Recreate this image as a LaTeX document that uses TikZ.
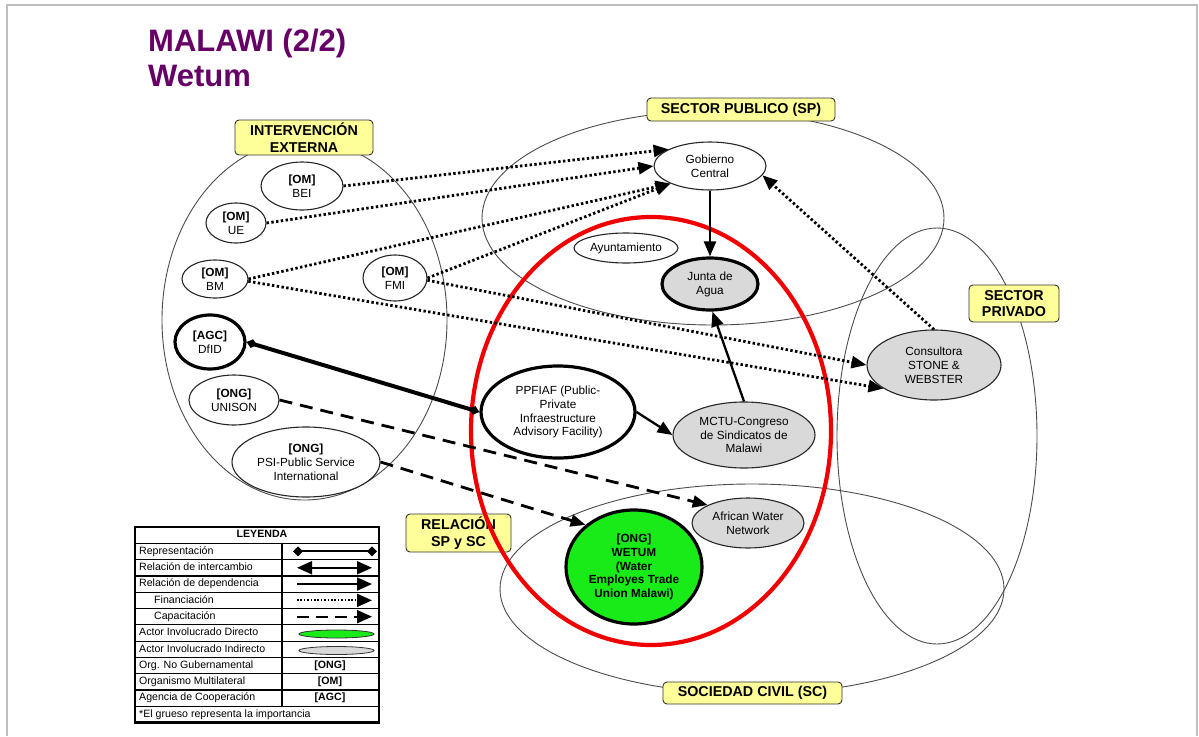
\documentclass[tikz,border=0pt]{standalone}
\usepackage{fontspec}
\setmainfont{Liberation Sans}
\usetikzlibrary{shapes.geometric,arrows.meta}
\definecolor{ttl}{RGB}{102,0,102}
\definecolor{lblfill}{RGB}{255,255,153}
\definecolor{indgray}{RGB}{217,217,217}
\definecolor{wgreen}{RGB}{25,235,25}
\definecolor{framegray}{RGB}{190,190,190}
\definecolor{redring}{RGB}{240,0,0}
\newcommand\ndfont{\fontsize{11.8}{13.9}\selectfont}
\newcommand\lblfont{\bfseries\fontsize{14.3}{16.5}\selectfont}
\newcommand\lgfont{\fontsize{10.6}{12}\selectfont}
\newcommand\ttlfont{\bfseries\fontsize{31}{35}\selectfont}
\tikzset{
  reg/.style={ellipse, draw=black!70, line width=0.9pt, inner sep=0pt},
  actor/.style={ellipse, draw=black!85, line width=1.1pt, fill=white, inner sep=0pt, align=center, font=\ndfont},
  keyactor/.style={actor, draw=black, line width=3.2pt},
  indirect/.style={fill=indgray},
  sectorlbl/.style={rectangle, draw=black!80, fill=lblfill, rounded corners=4pt, line width=0.9pt, font=\lblfont, align=center, inner sep=0pt},
  finarrow/.style={line width=2.8pt, dash pattern=on 2.4pt off 2.4pt, -{Triangle[length=15pt,width=12pt]}},
  caparrow/.style={line width=2.8pt, dash pattern=on 13pt off 8pt, -{Triangle[length=15pt,width=12pt]}},
  deparrow/.style={line width=2.3pt, -{Triangle[length=15pt,width=12pt]}},
  reparrow/.style={line width=4pt, {Diamond[length=11pt,width=9pt]}-{Diamond[length=11pt,width=9pt]}},
  lgtxt/.style={anchor=west, font=\lgfont, inner sep=0pt, text height=7.6pt, text depth=2pt},
  lgsym/.style={font=\lgfont\bfseries, inner sep=0pt, text height=7.6pt, text depth=2pt},
  lgline/.style={line width=1.2pt}
}
\begin{document}
\begin{tikzpicture}[x=1pt,y=-1pt]
\useasboundingbox (0,0) rectangle (1199,736);
\fill[white] (0,0) rectangle (1199,736);
\draw[framegray, line width=2.2pt] (7,736) -- (7,5) -- (1197,5) -- (1197,736);

% title
\node[anchor=base west, font=\ttlfont, text=ttl, inner sep=0pt] (title1) at (148,51) {MALAWI (2/2)};
\node[anchor=base west, font=\ttlfont, text=ttl, inner sep=0pt] (title2) at (148,86) {Wetum};

% regions
\node[reg, minimum width=285pt, minimum height=360pt] (ie) at (304.5,320) {};
\node[reg, minimum width=462pt, minimum height=214pt] (sp) at (713,218) {};
\node[reg, minimum width=200pt, minimum height=416pt] (spriv) at (937,436) {};
\node[reg, minimum width=504pt, minimum height=210pt] (sc) at (752,589) {};

% region labels
\node[sectorlbl, minimum width=138pt, minimum height=35pt] (lie) at (304,137.5) {INTERVENCIÓN\\EXTERNA};
\node[sectorlbl, minimum width=188pt, minimum height=23pt] (lsp) at (741,109.5) {SECTOR PUBLICO (SP)};
\node[sectorlbl, minimum width=90pt, minimum height=37pt] (lspriv) at (1014,303.5) {SECTOR\\PRIVADO};
\node[sectorlbl, minimum width=105pt, minimum height=38pt] (lrel) at (458.5,533) {RELACIÓN\\SP y SC};
\node[sectorlbl, minimum width=179pt, minimum height=22pt] (lsc) at (752.5,693) {SOCIEDAD CIVIL (SC)};

% red ring
\node[ellipse, draw=redring, line width=4.2pt, minimum width=360pt, minimum height=428pt, inner sep=0pt] (ring) at (651,431) {};

% actors
\node[actor, minimum width=82pt, minimum height=48pt] (bei) at (302,186) {\textbf{[OM]}\\BEI};
\node[actor, minimum width=60pt, minimum height=40pt] (ue) at (236,223) {\textbf{[OM]}\\UE};
\node[actor, minimum width=66pt, minimum height=38pt] (bm) at (215,279) {\textbf{[OM]}\\BM};
\node[actor, minimum width=64pt, minimum height=46pt] (fmi) at (395,278) {\textbf{[OM]}\\FMI};
\node[keyactor, minimum width=70pt, minimum height=54pt] (dfid) at (210,342) {\textbf{[AGC]}\\DfID};
\node[actor, minimum width=90pt, minimum height=50pt] (unison) at (234,400) {\textbf{[ONG]}\\UNISON};
\node[actor, minimum width=148pt, minimum height=70pt] (psi) at (306,462) {\textbf{[ONG]}\\PSI-Public Service\\International};
\node[actor, minimum width=112pt, minimum height=48pt] (gob) at (710,166) {Gobierno\\Central};
\node[actor, minimum width=104pt, minimum height=30pt] (ayto) at (626,248) {Ayuntamiento};
\node[keyactor, indirect, minimum width=96pt, minimum height=52pt] (junta) at (710,284) {Junta de\\Agua};
\node[keyactor, minimum width=154pt, minimum height=92pt] (ppfiaf) at (558,412) {PPFIAF (Public-\\Private\\Infraestructure\\Advisory Facility)};
\node[actor, indirect, minimum width=142pt, minimum height=66pt] (mctu) at (744,435) {MCTU-Congreso\\de Sindicatos de\\Malawi};
\node[actor, indirect, minimum width=134pt, minimum height=70pt] (con) at (934,365) {Consultora\\STONE \&\\WEBSTER};
\node[actor, indirect, minimum width=112pt, minimum height=50pt] (awn) at (748,523) {African Water\\Network};
\node[keyactor, fill=wgreen, minimum width=136pt, minimum height=114pt, font=\ndfont\bfseries] (wetum) at (634,567) {[ONG]\\WETUM\\(Water\\Employes Trade\\Union Malawi)};

% connectors
\draw[finarrow] (bei.east) -- (gob.158);
\draw[finarrow] (ue.east) -- (gob.west);
\draw[finarrow] (bm.east) -- (gob.204);
\draw[finarrow] (fmi.east) -- (gob.204);
\draw[finarrow] (bm.-4) -- (con.205);
\draw[finarrow] (fmi.-4) -- (con.west);
\draw[finarrow] (con.north) -- (gob.350);
\draw[deparrow] (gob.south) -- (junta.north);
\draw[deparrow] (mctu.north) -- (junta.-85);
\draw[deparrow] (ppfiaf.east) -- (mctu.west);
\draw[reparrow] (dfid.east) -- (ppfiaf.west);
\draw[caparrow] (unison.east) -- (awn.156);
\draw[caparrow] (psi.east) -- (wetum.139);

% legend
\foreach \yy in {543.3,559.6,575.9,592.2,608.5,624.8,641.1,657.4,673.7,690,706.3}
  \draw[lgline] (135,\yy) -- (379,\yy);
\draw[lgline] (282,543.3) -- (282,706.3);
\draw[line width=2.4pt] (135,527) rectangle (379,722.6);
\node[lgsym] (lghead) at (262,535.15) {LEYENDA};
\node[lgtxt] (lg1) at (139,551.45) {Representación};
\node[lgtxt] (lg2) at (139,567.75) {Relación de intercambio};
\node[lgtxt] (lg3) at (139,584.05) {Relación de dependencia};
\node[lgtxt] (lg4) at (154,600.35) {Financiación};
\node[lgtxt] (lg5) at (154,616.65) {Capacitación};
\node[lgtxt] (lg6) at (139,632.95) {Actor Involucrado Directo};
\node[lgtxt] (lg7) at (139,649.25) {Actor Involucrado Indirecto};
\node[lgtxt] (lg8) at (139,665.55) {Org. No Gubernamental};
\node[lgtxt] (lg9) at (139,681.85) {Organismo Multilateral};
\node[lgtxt] (lg10) at (139,698.15) {Agencia de Cooperación};
\node[lgtxt] (lg11) at (139,714.45) {*El grueso representa la importancia};
\node[lgsym] (lgong) at (330,665.55) {[ONG]};
\node[lgsym] (lgom) at (330,681.85) {[OM]};
\node[lgsym] (lgagc) at (330,698.15) {[AGC]};
\coordinate (s1a) at (293,551.45); \coordinate (s1b) at (377,551.45);
\coordinate (s2a) at (297,567.75); \coordinate (s2b) at (372,567.75);
\coordinate (s3a) at (297,584.05); \coordinate (s3b) at (372,584.05);
\coordinate (s4a) at (297,600.35); \coordinate (s4b) at (372,600.35);
\coordinate (s5a) at (297,616.65); \coordinate (s5b) at (372,616.65);
\draw[line width=2pt, {Diamond[length=10pt,width=10pt]}-{Diamond[length=10pt,width=10pt]}] (s1a) -- (s1b);
\draw[line width=2pt, {Triangle[length=15pt,width=13pt]}-{Triangle[length=15pt,width=13pt]}] (s2a) -- (s2b);
\draw[line width=2pt, -{Triangle[length=15pt,width=13pt]}] (s3a) -- (s3b);
\draw[line width=2pt, dash pattern=on 1.6pt off 1.8pt, -{Triangle[length=15pt,width=13pt]}] (s4a) -- (s4b);
\draw[line width=2pt, dash pattern=on 12pt off 7pt, -{Triangle[length=15pt,width=13pt]}] (s5a) -- (s5b);
\node[ellipse, draw=black!80, line width=0.8pt, fill=wgreen, minimum width=75pt, minimum height=8pt, inner sep=0pt] (lgdir) at (336.5,634) {};
\node[ellipse, draw=black!80, line width=0.8pt, fill=indgray, minimum width=75pt, minimum height=8pt, inner sep=0pt] (lgind) at (336.5,650.5) {};
\end{tikzpicture}
\end{document}
